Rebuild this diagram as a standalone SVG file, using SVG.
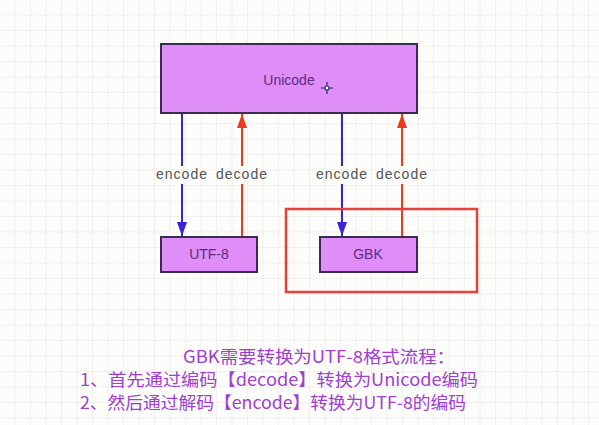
<svg xmlns="http://www.w3.org/2000/svg" width="599" height="425" viewBox="0 0 599 425">
<defs>
<pattern id="grid" x="0" y="0" width="15.5" height="15.5" patternUnits="userSpaceOnUse">
<path d="M15.5 0V15.5M0 15.5H15.5" fill="none" stroke="#e6e6e0" stroke-width="1"/>
</pattern>
<marker id="ab" viewBox="0 0 14 10" refX="14" refY="5" markerWidth="14" markerHeight="10" markerUnits="userSpaceOnUse" orient="auto">
<path d="M0 0L14 5L0 10Z" fill="#3a22d8"/>
</marker>
<marker id="ar" viewBox="0 0 14 10" refX="14" refY="5" markerWidth="14" markerHeight="10" markerUnits="userSpaceOnUse" orient="auto">
<path d="M0 0L14 5L0 10Z" fill="#ee3a1c"/>
</marker>
</defs>
<style>
.box{fill:#df8ef8;stroke:#3b2b4d;stroke-width:2}
.bt{font-family:"Liberation Sans",Arial,sans-serif;font-size:14px;fill:#5e2a80;text-anchor:middle}
.lbl{font-family:"Liberation Sans",Arial,sans-serif;font-size:14px;fill:#555;text-anchor:middle;letter-spacing:1px}
.blue{stroke:#3a22d8;stroke-width:2;fill:none}
.red{stroke:#ee3a1c;stroke-width:2;fill:none}
.note{font-family:"Noto Sans CJK SC","Noto Sans",sans-serif;font-size:17px;fill:#a03ed2}
</style>
<rect width="599" height="425" fill="#fcfcfa"/>
<rect width="599" height="425" fill="url(#grid)"/>

<g id="connectors">
<path class="blue" d="M182 114V166"/>
<path class="blue" d="M182 184V236" marker-end="url(#ab)"/>
<path class="red" d="M242 236V184"/>
<path class="red" d="M242 166V114" marker-end="url(#ar)"/>
<path class="blue" d="M342 114V166"/>
<path class="blue" d="M342 184V236" marker-end="url(#ab)"/>
<path class="red" d="M402 236V184"/>
<path class="red" d="M402 166V114" marker-end="url(#ar)"/>
<text class="lbl" x="182" y="179">encode</text>
<text class="lbl" x="242" y="179">decode</text>
<text class="lbl" x="342" y="179">encode</text>
<text class="lbl" x="402" y="179">decode</text>
</g>

<g id="unicode">
<rect class="box" x="161" y="44" width="256" height="69"/>
<text class="bt" x="289" y="85">Unicode</text>
</g>
<g id="utf8">
<rect class="box" x="161" y="237" width="96" height="35"/>
<text class="bt" x="209" y="259">UTF-8</text>
</g>
<g id="gbk">
<rect class="box" x="320" y="237" width="97" height="35"/>
<text class="bt" x="368" y="259">GBK</text>
</g>
<g id="highlight">
<rect x="286" y="209" width="191" height="83" fill="none" stroke="#e8403a" stroke-width="2.5"/>
</g>
<g id="cursor" stroke="#2a2a6a" stroke-width="1.2">
<path d="M321 88H333M327 82V94"/>
<circle cx="327" cy="88" r="2" fill="#fff"/>
</g>
<g id="notes">
<text class="note" x="183" y="363" textLength="272" lengthAdjust="spacingAndGlyphs">GBK需要转换为UTF-8格式流程：</text>
<text class="note" x="80" y="386" textLength="398" lengthAdjust="spacingAndGlyphs">1、首先通过编码【decode】转换为Unicode编码</text>
<text class="note" x="80" y="409" textLength="386" lengthAdjust="spacingAndGlyphs">2、然后通过解码【encode】转换为UTF-8的编码</text>
</g>
</svg>
